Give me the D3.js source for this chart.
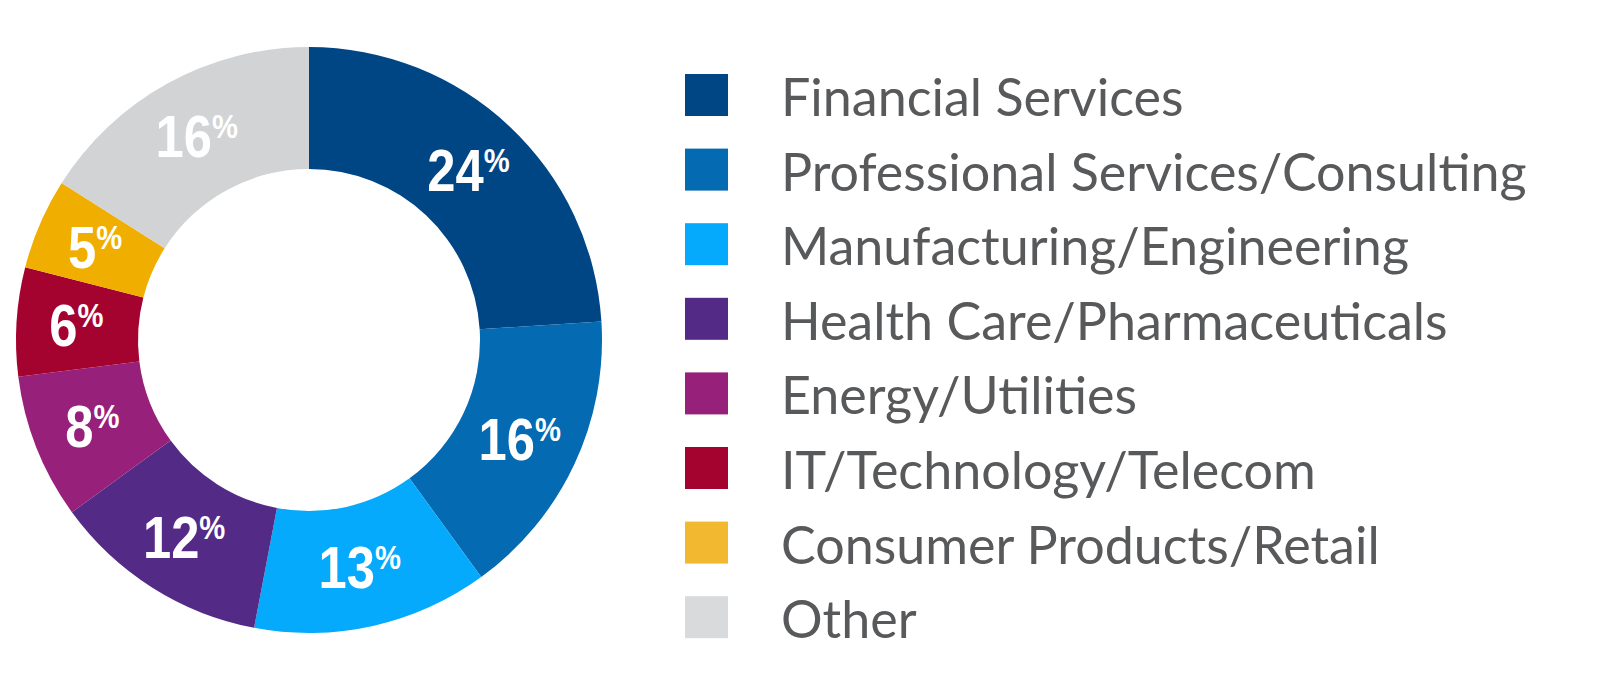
<!DOCTYPE html>
<html>
<head>
<meta charset="utf-8">
<script src="https://cdn.jsdelivr.net/npm/d3@7"></script>
<style>
  html, body { margin: 0; padding: 0; background: #ffffff; }
  svg { display: block; }
</style>
</head>
<body>
<svg id="chart" width="1600" height="692"></svg>
<script>
const categories = [
  "Financial Services",
  "Professional Services/Consulting",
  "Manufacturing/Engineering",
  "Health Care/Pharmaceuticals",
  "Energy/Utilities",
  "IT/Technology/Telecom",
  "Consumer Products/Retail",
  "Other"
];
const values = [24, 16, 13, 12, 8, 6, 5, 16];
const sliceColors = ["#004685", "#046ab2", "#06aafc", "#532a85", "#97207b", "#a5032f", "#f0ae00", "#d1d3d4"];
const legendColors = ["#004685", "#046ab2", "#06aafc", "#532a85", "#97207b", "#a5032f", "#f2b830", "#d9dadc"];

const svg = d3.select("#chart");
const cx = 309, cy = 340, outerR = 293, innerR = 171;

const pie = d3.pie().value(d => d).sort(null);
const arcs = pie(values);
const arc = d3.arc().innerRadius(innerR).outerRadius(outerR);
const labelArc = d3.arc().innerRadius(233).outerRadius(233);

const g = svg.append("g").attr("transform", `translate(${cx},${cy})`);
g.selectAll("path.slice").data(arcs).enter().append("path")
  .attr("class", "slice")
  .attr("d", arc)
  .attr("fill", (d, i) => sliceColors[i]);

const lbl = g.selectAll("text.lbl").data(arcs).enter().append("text")
  .attr("class", "lbl")
  .attr("text-anchor", "middle")
  .attr("fill", "#ffffff")
  .attr("font-family", "'Liberation Sans', Arial, sans-serif")
  .attr("font-weight", "bold")
  .attr("transform", d => { const c = labelArc.centroid(d); return `translate(${c[0]},${c[1] + 21}) scale(0.86,1)`; });
lbl.append("tspan").attr("font-size", 59).text(d => d.value);
lbl.append("tspan").attr("font-size", 34).attr("dy", -19).text("%");

const legend = svg.append("g").attr("transform", "translate(685,74)");
const rowH = 74.6;
const items = legend.selectAll("g.item").data(categories).enter().append("g")
  .attr("class", "item")
  .attr("transform", (d, i) => `translate(0,${i * rowH})`);
items.append("rect").attr("width", 43).attr("height", 42).attr("fill", (d, i) => legendColors[i]);
items.append("text")
  .attr("x", 96).attr("y", 42)
  .attr("fill", "#58595b")
  .attr("font-family", "Lato, 'Open Sans', sans-serif")
  .attr("font-size", 52)
  .text(d => d);
</script>
</body>
</html>
